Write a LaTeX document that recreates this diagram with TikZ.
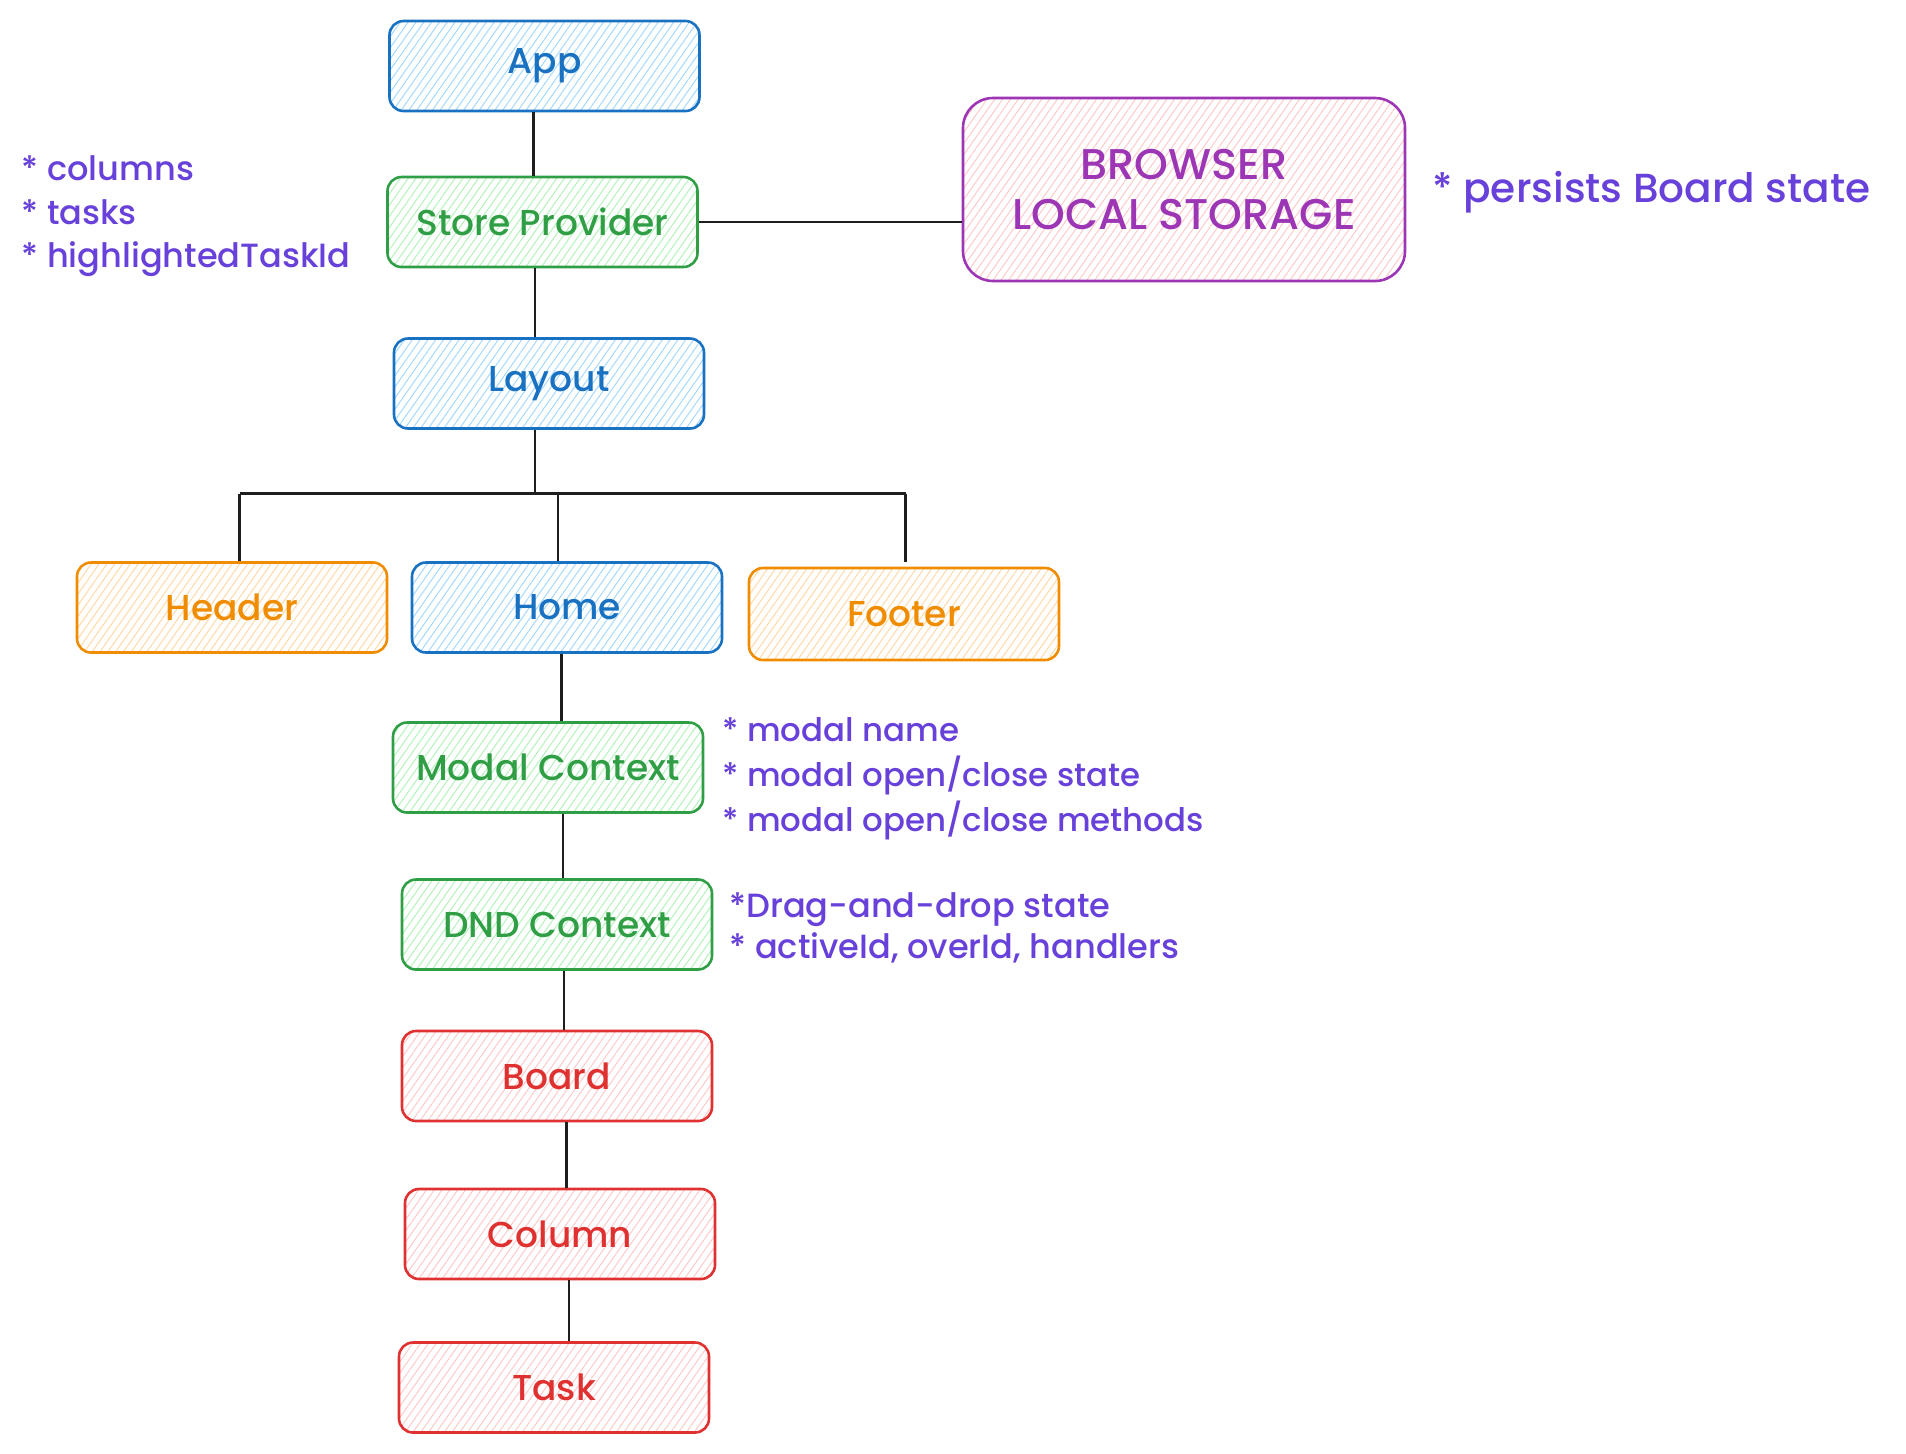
\documentclass[tikz,border=0pt]{standalone}
\usepackage{fontspec}
\setmainfont{Poppins}[UprightFont=* Medium]
\usetikzlibrary{patterns.meta,calc}
\definecolor{bluS}{HTML}{1971C2}
\definecolor{bluF}{HTML}{A5D8FF}
\definecolor{grnS}{HTML}{2F9E44}
\definecolor{grnF}{HTML}{B2F2BB}
\definecolor{orgS}{HTML}{F08C00}
\definecolor{orgF}{HTML}{FFD8A8}
\definecolor{redS}{HTML}{E03131}
\definecolor{redF}{HTML}{FFC9C9}
\definecolor{purS}{HTML}{9C36B5}
\definecolor{noteC}{HTML}{6741D9}
\definecolor{lineC}{HTML}{1E1E1E}
\tikzset{
  box/.style 2 args={draw=#1, pattern={Lines[angle=55,distance=3.2pt,line width=0.5pt]},
    pattern color=#2, rounded corners=7pt, line width=1.3pt,
    minimum width=155pt, minimum height=45pt, text=#1,
    font=\fontsize{18}{20}\selectfont, inner sep=0pt},
  conn/.style={draw=lineC, line width=1.2pt},
  note/.style={text=noteC, align=left, anchor=west, inner sep=0pt,
    font=\fontsize{16.2}{22.5}\selectfont},
}
\begin{document}
\begin{tikzpicture}[x=0.5pt,y=-0.5pt]
\useasboundingbox (0,0) rectangle (1906,1453);
% boxes
\node[box={bluS}{bluF}] (app) at (544.5,66) {App};
\node[box={grnS}{grnF}] (store) at (542.5,222) {Store Provider};
\node[box={bluS}{bluF}] (layout) at (549,383.5) {Layout};
\node[box={orgS}{orgF}] (header) at (232,607.5) {Header};
\node[box={bluS}{bluF}] (home) at (567,607.5) {Home};
\node[box={orgS}{orgF}, minimum height=46pt] (footer) at (904,614) {Footer};
\node[box={grnS}{grnF}] (modal) at (548,767.5) {Modal Context};
\node[box={grnS}{grnF}] (dnd) at (557,924.5) {DND Context};
\node[box={redS}{redF}] (board) at (557,1076) {Board};
\node[box={redS}{redF}] (column) at (560,1234) {Column};
\node[box={redS}{redF}] (task) at (554,1387.5) {Task};
\node[box={purS}{redF}, minimum width=221pt, minimum height=91.5pt, rounded corners=15pt,
  align=center, font=\fontsize{21.5}{25}\selectfont] (browser) at (1184,189.5) {BROWSER\\LOCAL STORAGE};
% notes
\node[note, font=\fontsize{16.8}{21.75}\selectfont] (n1) at (21,216.5) {* columns\\* tasks\\* highlightedTaskId};
\node[note, font=\fontsize{20.3}{24}\selectfont] (n2) at (1432,192) {* persists Board state};
\node[note] (n3) at (722,779) {* modal name\\* modal open/close state\\* modal open/close methods};
\node[note, font=\fontsize{16.8}{20.5}\selectfont] (n4) at (729,927.5) {*Drag-and-drop state\\* activeId, overId, handlers};
% connectors
\coordinate (c1) at (533.6,0);
\draw[conn] (app.south -| c1) -- (store.north -| c1);
\coordinate (c2) at (535,0);
\draw[conn] (store.south -| c2) -- (layout.north -| c2);
\draw[conn] (store.east) -- (browser.west |- store.east);
\coordinate (bus) at (535,493.5);
\coordinate (busL) at (239.5,493.5);
\coordinate (busR) at (905.6,493.5);
\coordinate (busH) at (558,493.5);
\draw[conn] (layout.south -| bus) -- (bus);
\draw[conn] (busL) -- (busR);
\draw[conn] (busL) -- (header.north -| busL);
\draw[conn] (busH) -- (home.north -| busH);
\coordinate (fEnd) at (905.6,561.6);
\draw[conn] (busR) -- (fEnd);
\coordinate (c3) at (561.6,0);
\draw[conn] (home.south -| c3) -- (modal.north -| c3);
\coordinate (c4) at (563,0);
\draw[conn] (modal.south -| c4) -- (dnd.north -| c4);
\coordinate (c5) at (564,0);
\draw[conn] (dnd.south -| c5) -- (board.north -| c5);
\coordinate (c6) at (566.5,0);
\draw[conn] (board.south -| c6) -- (column.north -| c6);
\coordinate (c7) at (569,0);
\draw[conn] (column.south -| c7) -- (task.north -| c7);
\end{tikzpicture}
\end{document}
